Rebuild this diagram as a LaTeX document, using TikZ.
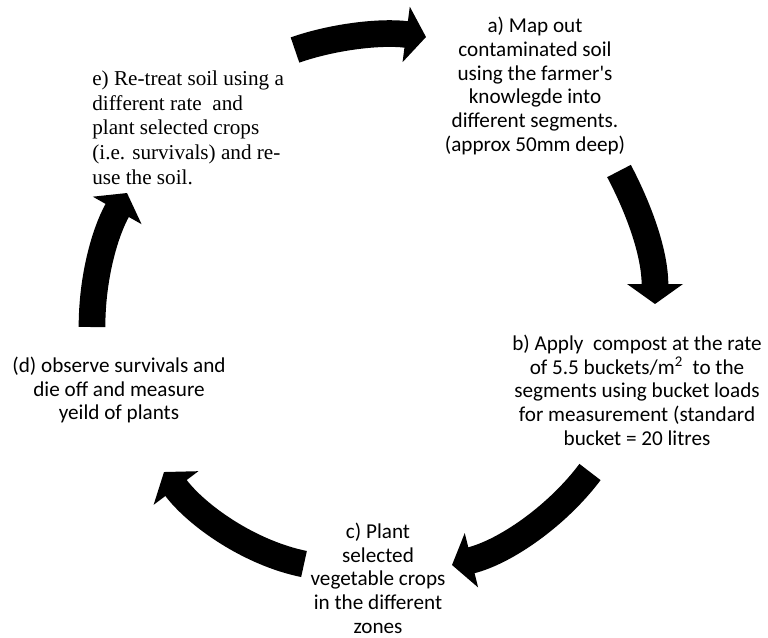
\documentclass[tikz,border=0pt]{standalone}
\usepackage{fontspec}
\usetikzlibrary{arrows.meta}
\newfontfamily\calibrisub{Carlito}
\newfontfamily\timessub{Liberation Serif}

\begin{document}
\begin{tikzpicture}[x=0.6pt,y=-0.6pt,
  steptext/.style={inner sep=0pt,align=center,font=\calibrisub\fontsize{12.7}{14.2}\selectfont},
  retreattext/.style={inner sep=0pt,align=left,anchor=west,font=\timessub\fontsize{12.7}{14.8}\selectfont},
  cyclearrow/.style={line width=16pt,-{Triangle[width=33pt,length=12pt]}}]
  \useasboundingbox (0,0) rectangle (768,637);

  \node[steptext] (mapsoil) at (535,86)
    {a) Map out\\contaminated soil\\using the farmer\textquotesingle s\\knowlegde into\\different segments.\\(approx 50mm deep)};
  \node[steptext] (compost) at (637,390)
    {b) Apply\ \ compost at the rate\\of 5.5 buckets/m\textsuperscript{2}\ \ to the\\segments using bucket loads\\for measurement (standard\\bucket = 20 litres};
  \node[steptext] (plantcrops) at (378,578)
    {c) Plant\\selected\\vegetable crops\\in the different\\zones};
  \node[steptext] (observe) at (119,390)
    {(d) observe survivals and\\die off and measure\\yeild of plants};
  \node[retreattext] (retreat) at (92,127.5)
    {e) Re-treat soil using a\\different rate\ \ and\\plant selected crops\\(i.e. survivals) and re-\\use the soil.};

  % arrow ends
  \coordinate (retreat-out) at (295,50);
  \coordinate (mapsoil-in) at (426,37);
  \coordinate (mapsoil-out) at (619,171);
  \coordinate (compost-in) at (655,304);
  \coordinate (compost-out) at (590,472);
  \coordinate (plantcrops-in) at (452,565);
  \coordinate (plantcrops-out) at (304,564);
  \coordinate (observe-in) at (164,472);
  \coordinate (observe-out) at (92,327);
  \coordinate (retreat-in) at (127,193);

  \draw[cyclearrow] (retreat-out) .. controls (332,37) and (380,31) .. (mapsoil-in);
  \draw[cyclearrow] (mapsoil-out) .. controls (640,211) and (655,254) .. (compost-in);
  \draw[cyclearrow] (compost-out) .. controls (557,516) and (505,552) .. (plantcrops-in);
  \draw[cyclearrow] (plantcrops-out) .. controls (250,553) and (197,516) .. (observe-in);
  \draw[cyclearrow] (observe-out) .. controls (92,277) and (105,232) .. (retreat-in);
\end{tikzpicture}
\end{document}
